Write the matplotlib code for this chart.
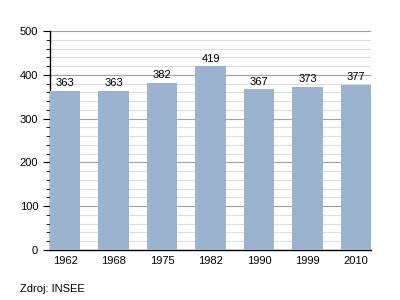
import matplotlib
matplotlib.use("Agg")
import matplotlib.pyplot as plt
from matplotlib.ticker import MultipleLocator

plt.rcParams['font.family'] = ['Liberation Sans', 'DejaVu Sans']

years = ["1962", "1968", "1975", "1982", "1990", "1999", "2010"]
population = [363, 363, 382, 419, 367, 373, 377]

fig = plt.figure(figsize=(4, 3), dpi=100)
ax = fig.add_axes([0.125, 0.1667, 0.8025, 0.73])

w = 0.62
x = list(range(len(years)))
ax.bar(x, population, width=w, color="#9BB3CF", zorder=3)
for xi, v in zip(x, population):
    ax.text(xi, v + 6, str(v), ha="center", va="bottom", fontsize=8, zorder=4)

ax.set_xlim(-w / 2, len(years) - 1 + w / 2)
ax.set_ylim(0, 500)
ax.yaxis.set_major_locator(MultipleLocator(100))
ax.yaxis.set_minor_locator(MultipleLocator(20))
ax.grid(axis="y", which="major", color="#A0A0A0", linewidth=0.8, zorder=0)
ax.grid(axis="y", which="minor", color="#DDDDDD", linewidth=0.8, zorder=0)
ax.set_xticks(x)
ax.set_xticklabels(years, fontsize=8)
ax.tick_params(axis="x", length=0, pad=4)
ax.tick_params(axis="y", which="major", length=5, labelsize=8, direction="out")
ax.tick_params(axis="y", which="minor", length=3, direction="out")
for s in ["top", "right"]:
    ax.spines[s].set_visible(False)
ax.spines["left"].set_linewidth(1)
ax.spines["bottom"].set_linewidth(1)

fig.text(20 / 400, 1 - 289 / 300, "Zdroj: INSEE", fontsize=8, va="center", ha="left")

fig.savefig("out.png", dpi=100)
